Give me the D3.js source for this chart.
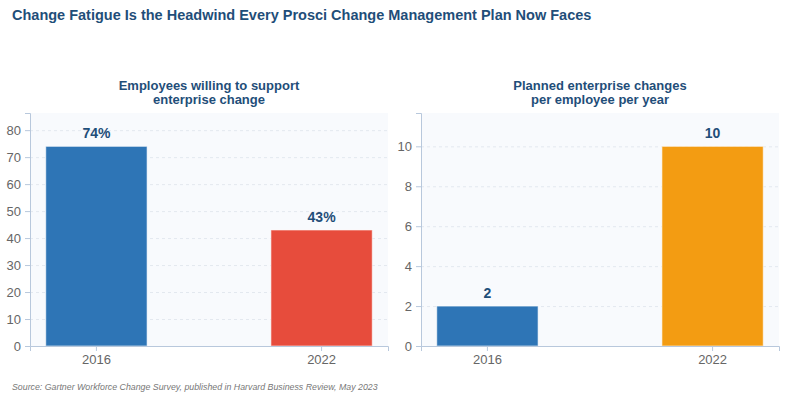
<!DOCTYPE html>
<html>
<head>
<meta charset="utf-8">
<script src="https://cdn.jsdelivr.net/npm/d3@7"></script>
<style>
  body { margin: 0; background: #fff; font-family: "Liberation Sans", Arial, sans-serif; }
  .grid line { stroke: #e3e8ef; stroke-dasharray: 3,3; }
  .grid .domain { display: none; }
  .axis text { fill: #666; font-size: 13px; }
  .axis line, .axis path { stroke: #b8c8dc; }
</style>
</head>
<body>
<div id="chart"></div>
<script>
// Data
const years = ["2016", "2022"];
const willingPct = [74, 43];
const plannedChanges = [2, 10];
const willingColors = ["#2e75b6", "#e74c3c"];
const plannedColors = ["#2e75b6", "#f39c12"];
const willingTicks = [0, 10, 20, 30, 40, 50, 60, 70, 80];
const plannedTicks = [0, 2, 4, 6, 8, 10];

const WIDTH = 787, HEIGHT = 400;
const TOP = 113, BOTTOM = 346;

let svg = d3.select("#chart").append("svg")
    .attr("width", WIDTH)
    .attr("height", HEIGHT);

// Main title
svg.append("text")
    .attr("x", 12).attr("y", 20)
    .attr("fill", "#1f4e79")
    .style("font-size", "14.5px").style("font-weight", "bold")
    .text("Change Fatigue Is the Headwind Every Prosci Change Management Plan Now Faces");

// Source note
svg.append("text")
    .attr("x", 12).attr("y", 390)
    .attr("fill", "#777")
    .style("font-size", "8.8px").style("font-style", "italic")
    .text("Source: Gartner Workforce Change Survey, published in Harvard Business Review, May 2023");

function drawPanel(left, right, titleLines, values, colors, ticks, fmt) {
    const g = svg.append("g");

    const xScale = d3.scaleBand().domain(years).range([left, right])
        .paddingInner(0.55).paddingOuter(0.07);
    const yScale = d3.scaleLinear().domain([0, d3.max(values) * 1.167]).range([BOTTOM, TOP]);

    // Plot background
    g.append("rect")
        .attr("x", left).attr("y", TOP)
        .attr("width", right - left).attr("height", BOTTOM - TOP)
        .attr("fill", "#f8fafd");

    // Dashed grid
    g.append("g")
        .attr("class", "grid")
        .attr("transform", `translate(${left},0)`)
        .call(d3.axisLeft(yScale).tickValues(ticks).tickSize(-(right - left)).tickFormat(""));

    // Panel title
    const cx = (left + right) / 2;
    titleLines.forEach((line, i) => {
        g.append("text")
            .attr("x", cx).attr("y", 90 + i * 14)
            .attr("text-anchor", "middle")
            .attr("fill", "#1f4e79")
            .style("font-size", "13px").style("font-weight", "bold")
            .text(line);
    });

    // Bars
    g.selectAll(".bar")
        .data(values)
        .enter()
        .append("rect")
        .attr("class", "bar")
        .attr("x", (d, i) => xScale(years[i]))
        .attr("y", d => yScale(d))
        .attr("width", xScale.bandwidth())
        .attr("height", d => BOTTOM - yScale(d))
        .attr("fill", (d, i) => colors[i])
        .attr("stroke", "#ffffff")
        .attr("stroke-opacity", 0.6)
        .attr("stroke-width", 1);

    // Value labels
    g.selectAll(".val")
        .data(values)
        .enter()
        .append("text")
        .attr("class", "val")
        .attr("x", (d, i) => xScale(years[i]) + xScale.bandwidth() / 2)
        .attr("y", d => yScale(d) - 8)
        .attr("text-anchor", "middle")
        .attr("fill", "#1f4e79")
        .style("font-size", "14px").style("font-weight", "bold")
        .text(fmt);

    // Axes
    g.append("g")
        .attr("class", "axis")
        .attr("transform", `translate(${left},0)`)
        .call(d3.axisLeft(yScale).tickValues(ticks).tickSizeOuter(0).tickSize(5).tickPadding(4));

    g.append("g")
        .attr("class", "axis")
        .attr("transform", `translate(0,${BOTTOM})`)
        .call(d3.axisBottom(xScale).tickSizeOuter(0).tickSize(5).tickPadding(4));
}

drawPanel(30, 388, ["Employees willing to support", "enterprise change"],
    willingPct, willingColors, willingTicks, d => d + "%");
drawPanel(421, 779, ["Planned enterprise changes", "per employee per year"],
    plannedChanges, plannedColors, plannedTicks, d => d);
</script>
</body>
</html>
